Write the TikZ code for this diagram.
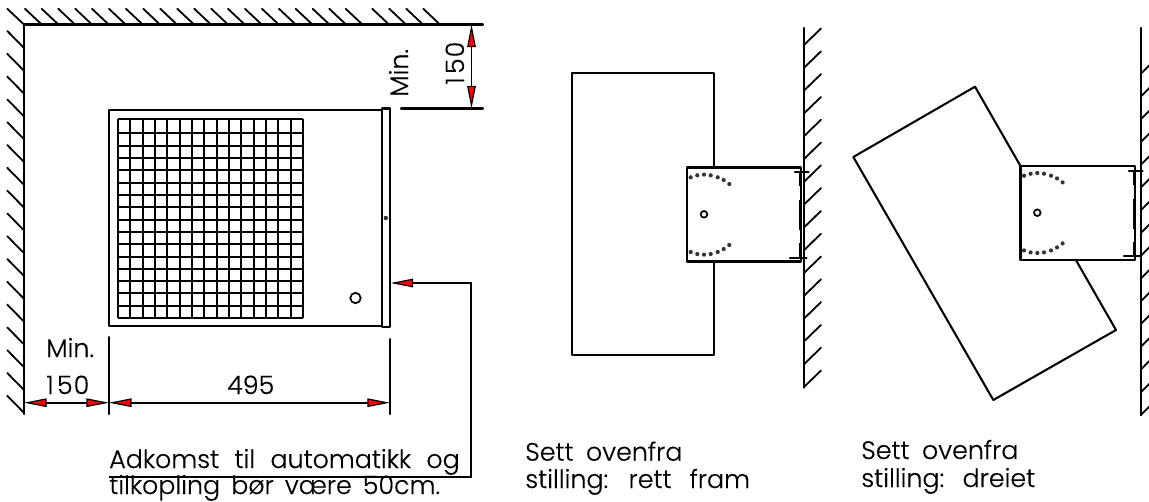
\documentclass[tikz,border=0pt]{standalone}
\usepackage{fontspec}
\newfontfamily\cadfont[WordSpace=1.6,FakeBold=0.35]{Poppins Light}
\usetikzlibrary{arrows.meta}
\tikzset{
  x=0.75pt,y=-0.75pt,
  line/.style={line width=1.55pt,line cap=round,line join=round,black},
  boxline/.style={line width=1.8pt,line cap=round,line join=round,black},
  thin line/.style={line width=1.25pt,line cap=round,line join=round,black},
  wall/.style={line width=1.6pt,line cap=round,line join=miter,black},
  hatch/.style={line width=1.35pt,line cap=round,black},
  grid line/.style={line width=1.5pt,black},
  heavy/.style={line width=2.1pt,black},
  dimtip/.tip={Triangle[length=17pt,width=6.4pt,fill=red,line width=0.9pt]},
  dim/.style={line width=1.25pt,black,{dimtip}-{dimtip}},
  lead/.style={line width=1.3pt,black,line join=miter,{dimtip}-},
  cad/.style={font=\cadfont\fontsize{19pt}{19pt}\selectfont,inner sep=0pt,anchor=base west,text=black},
}
\newcommand\mountbox[2]{%
  \begin{scope}[shift={#1}]
    \draw[boxline] (0,0) rectangle (#2,94);
    \foreach \px/\py in {3.7/10,10.3/8,17/7.3,23.7/8,30.7/10,36.7/12.7,42.3/16.7,
                         3.7/84.7,10.3/86.7,17/87.3,23.7/86.7,30.7/84.7,36.7/81.7,42.3/77.7}
      \fill[black!80] (\px,\py) circle[radius=2.1];
    \draw[line width=1.3pt] (17,47) circle[radius=3.3];
    \draw[thin line] (#2-6,5) -- (#2+8,5);
    \draw[thin line] (#2-11,90.5) -- (#2+6,90.5);
    \draw[heavy] (#2-0.3,5) -- (#2-0.3,19);
    \draw[heavy] (#2-0.8,33) -- (#2-0.8,63);
    \draw[heavy] (#2-0.3,76) -- (#2-0.3,90.5);
  \end{scope}}
\begin{document}
\begin{tikzpicture}
\useasboundingbox (0,0) rectangle (1149,501);
% named reference points
\coordinate (corner) at (24,24.5);
\coordinate (topEnd) at (483,24.5);
\coordinate (leftEnd) at (24,414);
\coordinate (extTopA) at (401,108.5);
\coordinate (extTopB) at (483,108.5);
\coordinate (dimTopA) at (471.5,24.5);
\coordinate (dimTopB) at (471.5,108.5);
\coordinate (dimA) at (24,402.7);
\coordinate (dimB) at (109,402.7);
\coordinate (dimC) at (390,402.7);
\coordinate (extBa) at (109,337);
\coordinate (extBb) at (109,414);
\coordinate (extCa) at (390,339);
\coordinate (extCb) at (390,414);
\coordinate (leadTip) at (390.5,283);
\coordinate (leadB) at (471,283);
\coordinate (leadC) at (471,477);
\coordinate (leadD) at (109,477);
% room walls
\draw[wall] (leftEnd) -- (corner) -- (topEnd);
\foreach \hx in {7.3,25,41.7,58.3,75.3,92,109,126,143.3,160.3,177.3,194.3,211.3,228,245,262,279,295.7,312.7,329.3,345.7,372.3,389.3,406.3,423.3}
  \draw[hatch] (\hx,8.8) -- ++(16.7,15.7);
\foreach \k in {0,...,16}
  \draw[hatch] (7.3,{31+22.8*\k}) -- (24,{48+22.8*\k});
% unit front
\draw[line] (382,110) -- (109,110) -- (109,326) -- (382,326);
\draw[line] (382,108.5) rectangle (390,327);
\fill[black!80] (385.8,218) circle[radius=2.2];
\draw[line width=1.3pt] (355.5,298) circle[radius=5.2];
% grid
\foreach \k in {0,...,15}
  \draw[grid line] ({round(117+12.333*\k)+0.5},118.5) -- ({round(117+12.333*\k)+0.5},317.5);
\draw[grid line] (302.5,118.5) -- (302.5,317.5);
\draw[grid line] (117.5,118.5) -- (302.5,118.5);
\foreach \k in {0,...,15}
  \draw[grid line] (117.5,{round(132.2+12.33*\k)+0.5}) -- (302.5,{round(132.2+12.33*\k)+0.5});
% dimensions
\draw[line] (extTopA) -- (extTopB);
\draw[dim] (dimTopA) -- (dimTopB);
\draw[line] (extBa) -- (extBb);
\draw[line] (extCa) -- (extCb);
\draw[dim] (dimA) -- (dimB);
\draw[dim] (dimB) -- (dimC);
\draw[lead] (leadTip) -- (leadB) -- (leadC) -- (leadD);
\node[cad,rotate=90] (tMinR) at (408,97) {Min.};
\node[cad,rotate=90] (t150R) at (464,85) {1\hspace{2.5pt}5\hspace{0.8pt}0};
\node[cad] (tMinB) at (46,357) {Min.};
\node[cad] (t150B) at (46,394) {1\hspace{2.5pt}5\hspace{0.8pt}0};
\node[cad] (t495) at (227,394) {495};
\node[cad] (tAd) at (109,468) {Adkomst\hspace{3.2pt} til\hspace{3.2pt} automatikk\hspace{3.2pt} og};
\node[cad] (tTil) at (109,494) {tilkopling bør være 50cm.};
% middle view
\draw[line] (714,167.3) -- (714,73) -- (572,73) -- (572,355) -- (714,355) -- (714,261.3);
\mountbox{(687,167.3)}{113.7}
\draw[wall] (804,28) -- (804,387.7);
\foreach \k in {0,...,15}
  \draw[hatch] (804,{45+22.8*\k}) -- ++(17,-16.5);
\node[cad] (tS1) at (525,460.7) {Sett\hspace{1pt} ovenfra};
\node[cad] (tS2) at (525,488) {stilling:\hspace{5.2pt} rett\hspace{5.2pt} fram};
% right view
\draw[line] (1020.3,165.7) -- (975,86.7) -- (853.3,157) -- (993.3,400) -- (1116,330) -- (1075.7,259.7);
\mountbox{(1020.3,165.7)}{114.4}
\draw[wall] (1140.7,28) -- (1140.7,415);
\foreach \k in {0,...,15}
  \draw[hatch] (1140.7,{415-22.75*\k}) -- ++(17,-16.5);
\node[cad] (tS3) at (861,459) {Sett\hspace{1pt} ovenfra};
\node[cad] (tS4) at (861,487) {stilling:\hspace{3.7pt} dreiet};
\end{tikzpicture}
\end{document}
